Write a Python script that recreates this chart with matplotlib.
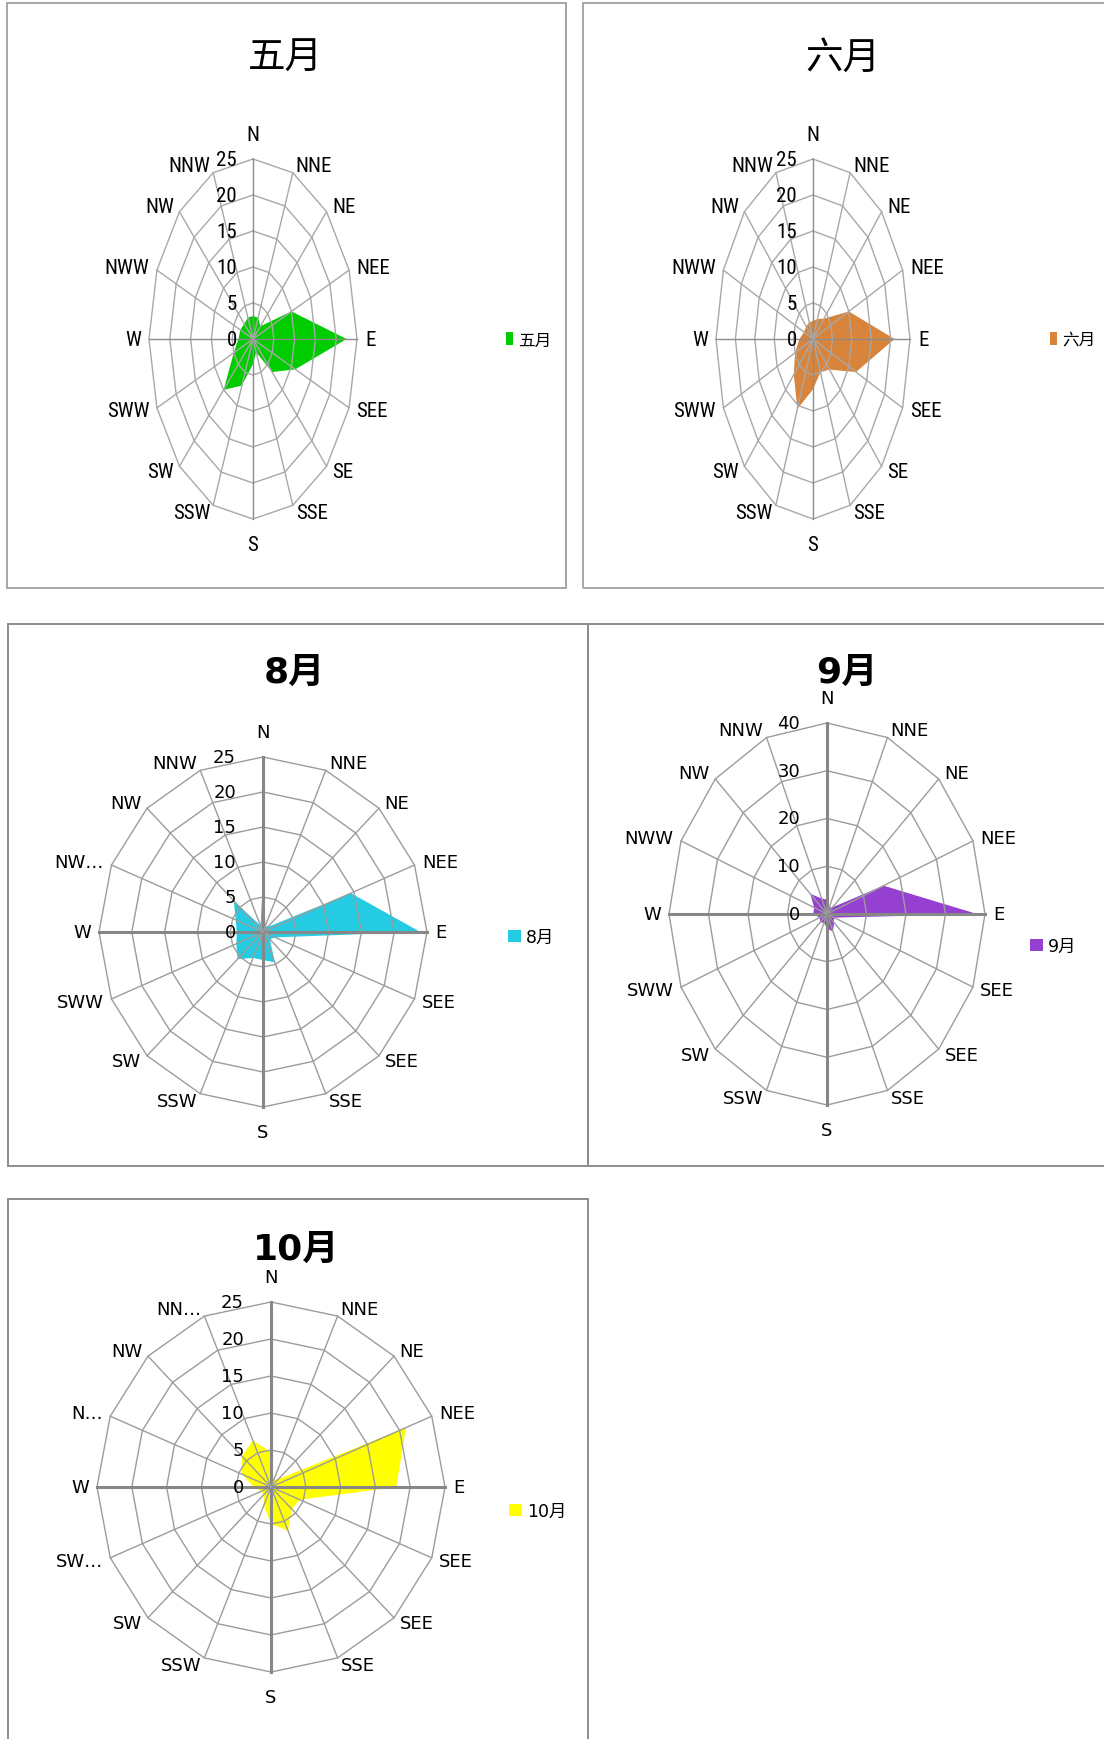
import os
import numpy as np
import matplotlib
matplotlib.use("Agg")
import matplotlib.pyplot as plt
from matplotlib.patches import Rectangle
from matplotlib import font_manager
from matplotlib.font_manager import FontProperties

# ---- data -------------------------------------------------------------
directions = ["N", "NNE", "NE", "NEE", "E", "SEE", "SE", "SSE",
              "S", "SSW", "SW", "SWW", "W", "NWW", "NW", "NNW"]
labels_aug = ["N", "NNE", "NE", "NEE", "E", "SEE", "SEE", "SSE",
              "S", "SSW", "SW", "SWW", "W", "NW…", "NW", "NNW"]
labels_sep = ["N", "NNE", "NE", "NEE", "E", "SEE", "SEE", "SSE",
              "S", "SSW", "SW", "SWW", "W", "NWW", "NW", "NNW"]
labels_oct = ["N", "NNE", "NE", "NEE", "E", "SEE", "SEE", "SSE",
              "S", "SSW", "SW", "SW…", "W", "N…", "NW", "NN…"]

may = [3.2, 3.2, 2.5, 10, 22.5, 11, 6.5, 2, 3.5, 7, 10, 5, 3.5, 3.3, 3, 3.2]
jun = [2.5, 3, 4, 10, 21, 12, 6, 5, 7, 10.5, 7, 5, 3.5, 2.5, 2.5, 2.5]
aug = [7.5, 1, 1, 14.5, 24, 2, 1.5, 4.7, 4, 4, 5.5, 4.4, 4, 4.5, 6.3, 1]
sep = [3, 1.5, 2, 15.5, 38, 2, 2.5, 4, 3, 2, 2.5, 2, 3.5, 3.5, 6, 3.5]
octo = [4.7, 1, 1.5, 21, 18, 4.5, 4.2, 6.4, 5, 2.7, 1.5, 1.5, 2.5, 4.5, 5.9, 6.8]

ticks_25 = [0, 5, 10, 15, 20, 25]
ticks_40 = [0, 10, 20, 30, 40]

# ---- fonts --------------------------------------------------------------
CJK = "Noto Sans CJK SC"
normal_fam = ["DejaVu Sans", CJK]


def find_condensed():
    """Pick a narrow sans face for the upper pair of charts, if one exists."""
    files = [f.fname for f in font_manager.fontManager.ttflist]
    preferred = ["LiberationSansNarrow-Regular", "RobotoCondensed-Regular",
                 "DejaVuSansCondensed.", "NotoSans-Condensed.",
                 "NotoSans-CondensedRegular", "OpenSans_Condensed-Regular",
                 "OpenSans-CondensedRegular"]
    for key in preferred:
        for fn in files:
            if key.lower() in os.path.basename(fn).lower():
                return fn
    for fn in files:
        base = os.path.basename(fn).lower()
        if ("condensed" in base or "narrow" in base) and "bold" not in base \
                and "italic" not in base and "light" not in base \
                and "thin" not in base and "black" not in base \
                and "medium" not in base and "semi" not in base \
                and "extra" not in base and "oblique" not in base:
            return fn
    return None


cond_file = find_condensed()
if cond_file:
    top_fp = FontProperties(fname=cond_file, size=15)
else:
    top_fp = FontProperties(family="DejaVu Sans", size=11)
low_fp = FontProperties(family=normal_fam, size=13)

W, H = 1104, 1740
fig = plt.figure(figsize=(W / 100, H / 100), dpi=100)
fig.patch.set_facecolor("white")


def fx(x):
    return x / W


def fy(y):
    return 1 - y / H


def panel(x0, y0, x1, y1, ec):
    fig.add_artist(Rectangle((fx(x0), fy(y1)), fx(x1 - x0), (y1 - y0) / H,
                             transform=fig.transFigure, fill=False,
                             ec=ec, lw=1.4, zorder=0))


def radar(cx, cy, rx, ry, values, labels, ticks, color, name, style):
    ax = fig.add_axes([fx(cx - rx), fy(cy + ry), 2 * rx / W, 2 * ry / H],
                      projection="polar")
    ax.set_aspect("auto")
    ax.set_theta_zero_location("N")
    ax.set_theta_direction(-1)
    rmax = ticks[-1]
    ax.set_ylim(0, rmax)
    ax.set_axis_off()

    theta = np.deg2rad(np.arange(len(values)) * 360 / len(values))
    closed = np.append(theta, theta[0])

    if style == "top":
        fp, grid_c, main_c, main_lw, gap = top_fp, "#a8a8a8", "#8c8c8c", 1.0, 16
    else:
        fp, grid_c, main_c, main_lw, gap = low_fp, "#9c9c9c", "#878787", 2.2, 27

    # data polygon
    poly = ax.fill(closed, np.append(values, values[0]), color=color,
                   lw=0, zorder=1, label=name)

    # polygonal rings and spokes
    for t in ticks[1:]:
        ax.plot(closed, [t] * len(closed), color=grid_c, lw=1.0,
                zorder=2, clip_on=False)
    for i, th in enumerate(theta):
        main = i % 4 == 0
        ax.plot([th, th], [0, rmax], color=main_c if main else grid_c,
                lw=main_lw if main else 1.0, zorder=3, clip_on=False)

    # radial value labels along the north spoke
    for t in ticks:
        ax.annotate(str(t), xy=(0, t), xytext=(-gap, 0),
                    textcoords="offset pixels", ha="right", va="center",
                    fontproperties=fp, annotation_clip=False)

    # direction labels
    for th, lab in zip(theta, labels):
        s, c = np.sin(th), np.cos(th)
        if abs(s) < 0.1:
            off, ha = (0, 25 * np.sign(c)), "center"
        else:
            off, ha = (8 * s, 8 * c), ("left" if s > 0 else "right")
        ax.annotate(lab, xy=(th, rmax), xytext=off, textcoords="offset pixels",
                    ha=ha, va="center", fontproperties=fp,
                    annotation_clip=False)
    return ax, poly


def legend(ax, poly, lx, ly, style):
    if style == "top":
        prop = {"family": [CJK], "size": 12}
        hl, hh = 0.42, 0.8
    else:
        prop = {"family": normal_fam, "size": 12.5}
        hl, hh = 0.75, 0.75
    ax.legend(handles=poly, loc="center left",
              bbox_to_anchor=(fx(lx), fy(ly)), bbox_transform=fig.transFigure,
              frameon=False, prop=prop, handlelength=hl, handleheight=hh,
              handletextpad=0.3, borderpad=0, borderaxespad=0)


# ---- panels ---------------------------------------------------------------
panel(7, 4, 566, 589, "#a6a6a6")
panel(583, 4, 1110, 589, "#a6a6a6")
panel(8, 625, 588, 1167, "#8c8c8c")
panel(588, 625, 1110, 1167, "#8c8c8c")
panel(8, 1200, 588, 1750, "#8c8c8c")

ax1, p1 = radar(253, 340, 104, 180, may, directions, ticks_25, "#00cc00", "五月", "top")
ax2, p2 = radar(813, 340, 97, 180, jun, directions, ticks_25, "#d9843b", "六月", "top")
ax3, p3 = radar(263, 933, 164, 175, aug, labels_aug, ticks_25, "#25cbe2", "8月", "low")
ax4, p4 = radar(827, 915, 158, 191, sep, labels_sep, ticks_40, "#9540d0", "9月", "low")
ax5, p5 = radar(271, 1488, 174, 185, octo, labels_oct, ticks_25, "#ffff00", "10月", "low")

legend(ax1, p1, 506, 341, "top")
legend(ax2, p2, 1050, 341, "top")
legend(ax3, p3, 508, 938, "low")
legend(ax4, p4, 1030, 947, "low")
legend(ax5, p5, 509, 1512, "low")

# ---- titles ---------------------------------------------------------------
fig.text(fx(285), fy(58), "五月", ha="center", va="center", fontsize=27, family=[CJK])
fig.text(fx(843), fy(58), "六月", ha="center", va="center", fontsize=27, family=[CJK])
for x, y, t in [(294, 673, "8月"), (847, 673, "9月"), (296, 1250, "10月")]:
    fig.text(fx(x), fy(y), t, ha="center", va="center", fontsize=26,
             fontweight="bold", family=normal_fam)

fig.savefig("out.png", dpi=100, facecolor="white")
